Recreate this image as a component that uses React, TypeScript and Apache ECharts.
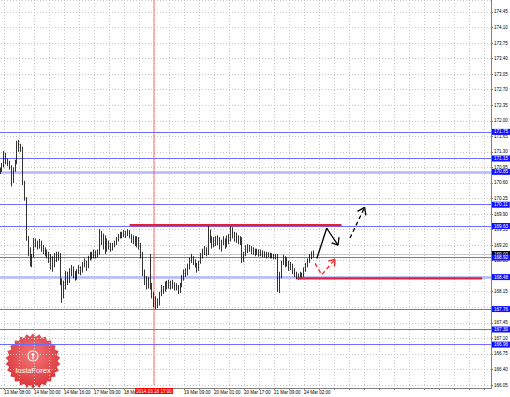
import React, { useEffect, useRef } from 'react';
import * as echarts from 'echarts';

// x axis: one step = one hourly bar; labels every 16 bars
const xLabels = ['13 Mar 08:00', '14 Mar 00:00', '14 Mar 16:00', '17 Mar 09:00', '18 Mar 01:00', '18 Mar 17:00', '19 Mar 09:00', '20 Mar 01:00', '20 Mar 17:00', '21 Mar 09:00', '24 Mar 02:00'];
const firstBar = -2;
const firstOpen = 170.85;
const closes = [
  170.88, 170.95, 171.25, 171.10, 171.05, 170.98, 170.62, 170.90, 171.05, 171.45,
  171.35, 171.40, 170.60, 170.25, 169.35, 169.10, 168.85, 168.95, 169.30, 169.25,
  169.20, 169.28, 169.15, 169.10, 169.05, 168.98, 168.92, 168.85, 168.75, 168.95,
  168.90, 169.00, 168.40, 168.05, 168.35, 168.55, 168.40, 168.60, 168.70, 168.55,
  168.45, 168.60, 168.68, 168.62, 168.75, 168.80, 168.72, 168.90, 169.00, 168.95,
  169.05, 168.98, 169.02, 169.50, 169.30, 169.40, 169.15, 169.25, 169.20, 169.12,
  169.18, 169.25, 169.32, 169.40, 169.45, 169.42, 169.48, 169.45, 169.50, 169.42,
  169.30, 169.35, 169.25, 169.35, 169.22, 169.00, 168.60, 168.45, 168.30, 168.40,
  168.30, 168.10, 167.90, 167.95, 167.85, 168.10, 168.25, 168.18, 168.30, 168.28,
  168.35, 168.30, 168.32, 168.25, 168.28, 168.15, 168.30, 168.45, 168.60, 168.55,
  168.70, 168.85, 168.90, 168.82, 168.75, 168.65, 168.80, 168.95, 169.05, 169.10,
  169.00, 169.50, 169.35, 169.20, 169.30, 169.25, 169.35, 169.15, 169.25, 169.30,
  169.20, 169.35, 169.30, 169.55, 169.45, 169.35, 169.40, 169.30, 169.35, 168.90,
  169.00, 169.15, 169.10, 169.15, 169.05, 169.10, 169.02, 169.08, 169.00, 169.05,
  168.98, 169.02, 168.95, 169.00, 168.95, 168.98, 168.92, 168.95, 168.30, 168.50,
  168.80, 168.90, 168.85, 168.80, 168.70, 168.75, 168.62, 168.55, 168.50, 168.47,
  168.55, 168.50, 168.65, 168.75, 168.85, 168.95, 169.02, 169.00,
];
const highs = [
  170.95, 171.05, 171.32, 171.28, 171.15, 171.10, 171.00, 170.95, 171.12, 171.55,
  171.57, 171.48, 171.42, 170.65, 170.28, 169.40, 169.15, 169.00, 169.36, 169.35,
  169.30, 169.34, 169.30, 169.20, 169.15, 169.10, 169.05, 169.00, 168.95, 169.02,
  169.05, 169.05, 169.02, 168.45, 168.40, 168.62, 168.60, 168.68, 168.75, 168.72,
  168.62, 168.66, 168.75, 168.72, 168.82, 168.90, 168.85, 168.96, 169.05, 169.05,
  169.10, 169.08, 169.10, 169.56, 169.52, 169.46, 169.42, 169.35, 169.30, 169.25,
  169.25, 169.30, 169.38, 169.45, 169.50, 169.50, 169.54, 169.52, 169.56, 169.54,
  169.45, 169.42, 169.40, 169.40, 169.38, 169.25, 169.05, 168.65, 168.50, 168.48,
  169.00, 168.35, 168.15, 168.05, 168.00, 168.15, 168.30, 168.28, 168.38, 168.40,
  168.42, 168.40, 168.42, 168.36, 168.34, 168.30, 168.35, 168.52, 168.65, 168.68,
  168.78, 168.92, 169.00, 168.95, 168.88, 168.80, 168.85, 169.02, 169.12, 169.18,
  169.15, 169.63, 169.55, 169.40, 169.38, 169.40, 169.42, 169.38, 169.32, 169.40,
  169.35, 169.42, 169.45, 169.65, 169.60, 169.50, 169.48, 169.42, 169.40, 169.38,
  169.05, 169.20, 169.22, 169.20, 169.18, 169.15, 169.12, 169.12, 169.10, 169.10,
  169.08, 169.06, 169.05, 169.04, 169.03, 169.02, 169.00, 169.00, 169.00, 168.60,
  168.85, 168.98, 168.95, 168.92, 168.85, 168.82, 168.78, 168.68, 168.60, 168.56,
  168.60, 168.58, 168.70, 168.80, 168.90, 169.00, 169.06, 169.08,
];
const lows = [
  170.80, 170.85, 170.95, 171.02, 170.98, 170.90, 170.52, 170.60, 170.85, 171.02,
  171.30, 171.30, 170.55, 170.20, 169.30, 168.95, 168.72, 168.70, 168.92, 169.15,
  169.10, 169.12, 169.05, 169.00, 168.95, 168.90, 168.80, 168.65, 168.60, 168.70,
  168.82, 168.85, 168.30, 167.90, 168.00, 168.20, 168.30, 168.35, 168.50, 168.45,
  168.40, 168.42, 168.55, 168.52, 168.58, 168.70, 168.62, 168.68, 168.85, 168.88,
  168.90, 168.90, 168.92, 168.98, 169.20, 169.10, 169.00, 169.05, 169.10, 169.05,
  169.08, 169.15, 169.20, 169.28, 169.35, 169.35, 169.38, 169.36, 169.40, 169.35,
  169.25, 169.22, 169.18, 169.15, 169.10, 168.90, 168.50, 168.30, 168.20, 168.22,
  168.20, 168.00, 167.80, 167.76, 167.78, 167.84, 168.05, 168.10, 168.15, 168.20,
  168.22, 168.20, 168.22, 168.18, 168.18, 168.10, 168.12, 168.25, 168.40, 168.48,
  168.52, 168.65, 168.80, 168.75, 168.70, 168.58, 168.62, 168.78, 168.90, 168.98,
  168.95, 168.98, 169.25, 169.12, 169.15, 169.18, 169.20, 169.10, 169.05, 169.20,
  169.12, 169.15, 169.22, 169.28, 169.35, 169.28, 169.25, 169.22, 169.20, 168.80,
  168.82, 168.95, 169.02, 169.05, 169.00, 168.98, 168.95, 168.98, 168.94, 168.95,
  168.92, 168.92, 168.90, 168.92, 168.90, 168.90, 168.88, 168.88, 168.15, 168.12,
  168.45, 168.75, 168.70, 168.72, 168.62, 168.64, 168.55, 168.48, 168.43, 168.42,
  168.43, 168.44, 168.48, 168.60, 168.70, 168.80, 168.88, 168.92,
];

// horizontal levels
const levelValues = [171.75, 171.15, 170.85, 170.11, 169.63, 168.92, 168.48, 167.76, 167.30, 166.96];
const levelLight = [false, false, true, false, false, false, true, false, false, false];
const currentPrice = 169.0;
const markerBar = 80;
const markerText = '2014.03.18 17:00';

// annotations, in [bar, price]
const resistanceLine = [[67, 169.65], [180, 169.65]];
const supportLine = [[156.3, 168.45], [255, 168.45]];
const blackPath = [[166.8, 168.9], [172.1, 169.58], [178.1, 169.2]];
const blackHead = [[174.7, 169.25], [178.1, 169.2], [178.7, 169.38]];
const blackDashPath = [[184.5, 169.36], [192.3, 170.05]];
const blackDashHead = [[188.5, 169.96], [192.3, 170.05], [193.0, 169.87]];
const redDashPath = [[165.9, 168.79], [169.4, 168.53], [176.5, 168.88]];
const redDashHead = [[172.9, 168.84], [176.5, 168.88], [176.2, 168.72]];

const FONT = 'Liberation Sans, Arial, sans-serif';

function starPoints(cx: number, cy: number, ro: number, ri: number, n: number) {
  const pts: number[][] = [];
  for (let k = 0; k < n * 2; k++) {
    const r = k % 2 ? ri : ro;
    const a = (k * Math.PI) / n - Math.PI / 2;
    pts.push([cx + r * Math.cos(a), cy + r * Math.sin(a)]);
  }
  return pts;
}

export default function App() {
  const ref = useRef<HTMLDivElement>(null);
  useEffect(() => {
    if (!ref.current) return;
    const chart = echarts.init(ref.current, undefined, { renderer: 'svg' });
    const candles = closes.map((c, i) => {
      const o = i === 0 ? firstOpen : closes[i - 1];
      return [firstBar + i, o, c, Math.min(lows[i], o, c), Math.max(highs[i], o, c)];
    });
    const lineSeries = (data: number[][], color: string, width: number, type: any, z = 5) => ({
      type: 'line',
      data,
      showSymbol: false,
      symbol: 'none',
      silent: true,
      z,
      lineStyle: { color, width, type },
    });
    const boxLabel = (text: string, bg: string) => ({
      show: true,
      position: 'end',
      distance: 1,
      formatter: text,
      color: '#ffffff',
      backgroundColor: bg,
      fontSize: 4.6,
      fontFamily: FONT,
      padding: [1, 2, 0, 2],
    });
    const levelMarks: any[] = levelValues.map((v, i) => ({
      yAxis: v,
      lineStyle: { color: levelLight[i] ? '#b4b8ff' : '#6c6cff', width: levelLight[i] ? 2.5 : 1, type: 'solid' },
      label: boxLabel(v.toFixed(2), '#1010ff'),
    }));
    const markData: any[] = [
      {
        yAxis: currentPrice,
        lineStyle: { color: '#c8c8c8', width: 1, type: 'solid' },
        label: boxLabel(currentPrice.toFixed(2), '#000000'),
      },
      ...levelMarks,
      {
        xAxis: markerBar,
        lineStyle: { color: 'rgba(255,90,90,0.55)', width: 1.6, type: 'solid' },
        label: {
          show: true, position: 'start', distance: 3, formatter: markerText,
          color: '#ffffff', backgroundColor: '#ff0000', fontSize: 4.6, fontFamily: FONT, padding: [1, 1, 0, 1],
        },
      },
    ];
    const star = starPoints(33, 361, 27.5, 24.5, 26);
    chart.setOption({
      animation: false,
      backgroundColor: '#ffffff',
      grid: { left: -11, right: 19, top: 0, bottom: 12, containLabel: false, outerBoundsMode: 'none' } as any,
      xAxis: {
        type: 'value',
        min: -8,
        max: 259.7,
        interval: 8,
        offset: 3,
        axisLine: { show: true, onZero: false, lineStyle: { color: '#808080', width: 1 } },
        axisTick: { show: true, length: 2, lineStyle: { color: '#808080' } },
        axisLabel: {
          show: true,
          fontSize: 4.5,
          fontFamily: FONT,
          color: '#000000',
          margin: 2,
          align: 'left',
          showMaxLabel: false,
          formatter: (v: number) => {
            const r = Math.round(v);
            if (r < 0 || r % 16 !== 0 || r === markerBar) return '';
            return xLabels[r / 16] ?? '';
          },
        },
        splitLine: { show: true, lineStyle: { color: '#c8c8c8', type: [1, 2], width: 1 } },
      },
      yAxis: {
        type: 'value',
        position: 'right',
        min: 166.05,
        max: 174.72,
        interval: 0.35,
        axisLine: { show: true, onZero: false, lineStyle: { color: '#808080', width: 1 } },
        axisTick: { show: true, length: 2, lineStyle: { color: '#808080' } },
        axisLabel: {
          show: true,
          fontSize: 4.5,
          fontFamily: FONT,
          color: '#000000',
          margin: 3,
          showMaxLabel: false,
          formatter: (v: number) => {
            // labels hidden under a level's box, as in the terminal
            if (levelValues.some((l) => Math.abs(l - v) < 0.065)) return '';
            return v.toFixed(2);
          },
        },
        splitLine: { show: true, lineStyle: { color: '#c8c8c8', type: [1, 2], width: 1 } },
      },
      series: [
        {
          type: 'candlestick',
          data: candles,
          encode: { x: 0, y: [1, 2, 3, 4] },
          barWidth: 1.2,
          z: 3,
          itemStyle: { color: '#ffffff', color0: '#000000', borderColor: '#000000', borderColor0: '#000000', borderWidth: 0.8 },
          markLine: { silent: true, symbol: ['none', 'none'], animation: false, data: markData, z: 1 },
        },
        lineSeries(resistanceLine, '#e0203c', 2.2, 'solid', 4),
        lineSeries(supportLine, '#e0203c', 2.2, 'solid', 4),
        lineSeries(blackPath, '#000000', 1.3, 'solid'),
        lineSeries(blackHead, '#000000', 1.3, 'solid'),
        lineSeries(blackDashPath, '#000000', 1.3, [4, 3]),
        lineSeries(blackDashHead, '#000000', 1.3, 'solid'),
        lineSeries(redDashPath, '#ff2020', 1.3, [4, 3]),
        lineSeries(redDashHead, '#ff2020', 1.3, 'solid'),
      ],
      graphic: [
        { type: 'line', z: 50, shape: { x1: 491.5, y1: 384, x2: 491.5, y2: 388.5 }, style: { stroke: '#808080', lineWidth: 1 } },
        {
          type: 'group',
          z: 100,
          children: [
            {
              type: 'polygon',
              shape: { points: star },
              style: {
                fill: new echarts.graphic.RadialGradient(0.5, 0.4, 0.65, [
                  { offset: 0, color: '#f57878' },
                  { offset: 1, color: '#d62e34' },
                ]),
              },
            },
            { type: 'ring', shape: { cx: 33, cy: 356, r: 5.5, r0: 4.5 }, style: { fill: '#ffffff' } },
            { type: 'circle', shape: { cx: 33, cy: 354.5, r: 1.3 }, style: { fill: '#ffffff' } },
            { type: 'rect', shape: { x: 32.4, y: 356, width: 1.2, height: 3.5 }, style: { fill: '#ffffff' } },
            {
              type: 'text',
              x: 33,
              y: 370,
              style: { text: 'InstaForex', fill: '#ffffff', fontSize: 7.5, fontFamily: FONT, align: 'center', verticalAlign: 'middle' },
            },
          ],
        },
      ],
    });
    return () => chart.dispose();
  }, []);
  return <div ref={ref} style={{ position: 'fixed', left: 0, top: 0, width: 510, height: 397 }} />;
}
